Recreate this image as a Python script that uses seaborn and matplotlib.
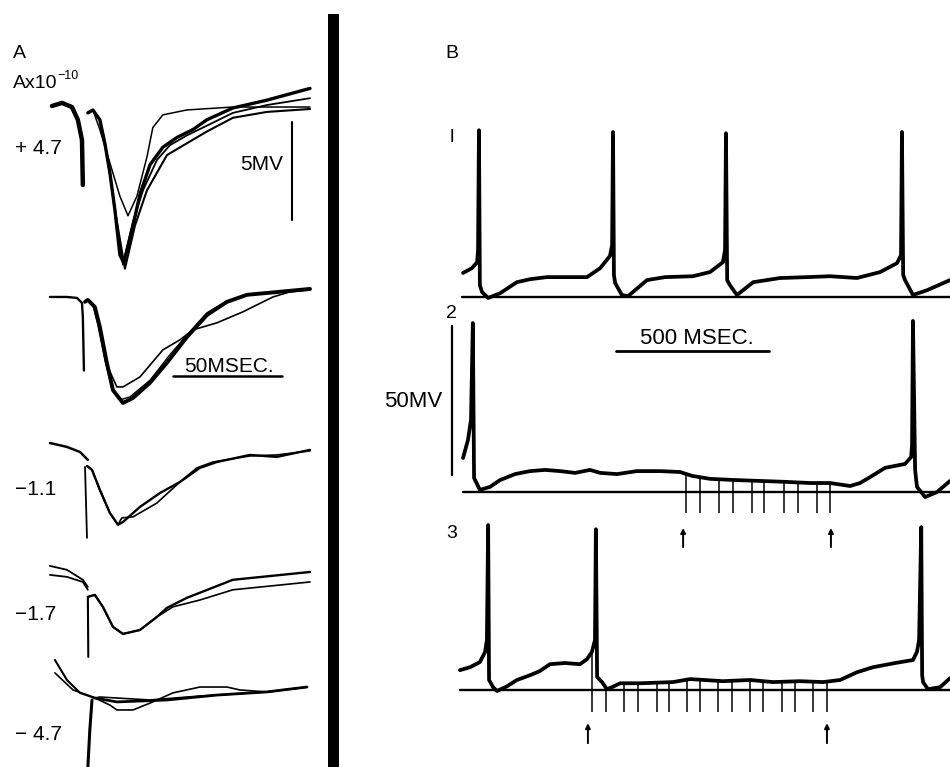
import numpy as np
import matplotlib
matplotlib.use('Agg')
import matplotlib.pyplot as plt
from matplotlib.patches import Rectangle
import seaborn as sns

# ---------------- Panel A : responses (t in ms, v in mV, relative to each group) ----------------
# +4.7
a1_art_t = [0.9, 5.5, 10.1, 12.8, 14.7, 15.1]
a1_art_v = [0.2, 0.36, 0.15, -0.5, -1.53, -3.83]
a1_tr1_t = [17.4, 19.7, 22.9, 27.5, 32.1, 35.8, 39.9, 44.5, 47.2, 51.8, 62.8, 83.9, 119.3]
a1_tr1_v = [-0.15, 0, -1.0, -2.7, -4.4, -5.4, -4.4, -2.4, -0.9, -0.25, 0, 0.15, 0.15]
a1_tr2_t = [17.4, 19.7, 22.9, 25.2, 27.5, 29.8, 32.1, 33.9, 38.1, 41.3, 45.9, 51.8, 58.3, 65.6, 72.0, 83.9, 99.5, 119.3]
a1_tr2_v = [-0.15, 0, -0.5, -1.7, -3.2, -5.1, -7.4, -7.8, -5.9, -4.3, -2.8, -1.9, -1.4, -1.0, -0.5, 0.1, 0.5, 1.1]
a1_tr3_t = [17.4, 19.7, 22.9, 25.2, 27.5, 29.8, 33.5, 38.1, 42.7, 49.1, 55.0, 62.8, 72.0, 83.9, 99.5, 119.3]
a1_tr3_v = [-0.15, 0, -0.5, -1.7, -3.2, -5.1, -7.9, -5.7, -4.1, -2.55, -1.8, -1.3, -0.8, -0.15, 0.25, 0.6]
a1_tr4_t = [17.4, 19.7, 22.9, 25.2, 27.5, 29.8, 34.4, 39.0, 44.5, 53.7, 62.8, 72.0, 83.9, 99.5, 119.3]
a1_tr4_v = [-0.15, 0, -0.5, -1.7, -3.2, -5.1, -8.1, -5.9, -4.1, -2.3, -1.7, -1.1, -0.4, -0.1, 0.05]

# second group (no label)
a2_art_t = [0, 7.8, 12.4, 14.7, 15.1, 15.6]
a2_art_v = [0.15, 0.15, 0.1, -0.15, -0.87, -3.6]
a2_tr1_t = [16.1, 17.4, 20.6, 22.9, 26.1, 28.9, 33.5, 38.1, 45.9, 53.7, 62.8, 72.0, 81.2, 90.4, 104.1, 119.3]
a2_tr1_v = [-0.1, 0, -0.36, -1.38, -3.2, -4.6, -5.26, -5.0, -4.23, -3.2, -1.9, -0.77, -0.1, 0.26, 0.4, 0.56]
a2_tr2_t = [16.1, 17.4, 19.7, 22.0, 25.2, 28.4, 32.1, 36.7, 45.9, 55.0, 62.8, 72.0, 81.2, 90.4, 104.1, 119.3]
a2_tr2_v = [-0.1, 0, -0.26, -1.28, -3.06, -4.5, -5.1, -4.95, -4.1, -2.8, -1.8, -0.66, -0.05, 0.26, 0.4, 0.56]
a2_tr3_t = [16.1, 17.4, 20.6, 22.9, 26.1, 30.7, 33.5, 41.3, 51.8, 59.6, 65.6, 76.6, 88.5, 102.3, 110.1, 119.3]
a2_tr3_v = [-0.1, 0, -0.36, -1.53, -3.3, -4.44, -4.44, -3.93, -2.55, -2.04, -1.53, -1.17, -0.61, 0.15, 0.41, 0.51]

# -1.1
a3_art_t = [0, 7.8, 13.8, 17.4]
a3_art_v = [1.17, 0.97, 0.71, 0.31]
a3_drop_t = [16.1, 17.0]
a3_drop_v = [-0.05, -3.67]
a3_tr1_t = [17.0, 19.3, 22.9, 27.5, 31.2, 33.5, 41.3, 50.5, 59.6, 68.8, 76.6, 91.7, 104.1, 119.3]
a3_tr1_v = [0, -0.2, -1.22, -2.4, -3.0, -2.86, -2.09, -1.38, -0.82, -0.1, 0.2, 0.56, 0.46, 0.82]
a3_tr2_t = [17.0, 19.3, 22.9, 27.5, 31.2, 33.0, 38.1, 49.1, 59.6, 67.4, 74.8, 91.7, 104.1, 119.3]
a3_tr2_v = [0, -0.2, -1.22, -2.4, -3.0, -2.65, -2.6, -1.89, -0.82, -0.1, 0.2, 0.51, 0.56, 0.77]

# -1.7
a4_art1_t = [0, 7.8, 15.1, 17.4]
a4_art1_v = [1.48, 1.28, 0.77, 0.41]
a4_art2_t = [0, 7.8, 15.1, 17.4]
a4_art2_v = [1.02, 0.92, 0.66, 0.26]
a4_drop_t = [17.4, 17.6]
a4_drop_v = [-0.1, -3.16]
a4_tr1_t = [17.4, 20.6, 24.3, 28.9, 33.5, 41.3, 49.1, 53.7, 62.8, 83.9, 119.3]
a4_tr1_v = [-0.1, 0, -0.61, -1.63, -1.99, -1.79, -1.12, -0.66, -0.15, 0.77, 1.17]
a4_tr2_t = [17.4, 20.6, 24.3, 28.9, 33.5, 41.3, 49.1, 56.4, 68.8, 83.9, 119.3]
a4_tr2_v = [-0.1, 0, -0.61, -1.63, -1.99, -1.79, -1.12, -0.61, -0.26, 0.26, 0.66]

# -4.7
a5_art1_t = [2.3, 7.8, 13.8, 20.6]
a5_art1_v = [1.94, 0.92, 0.26, 0]
a5_art2_t = [2.3, 10.6, 19.7]
a5_art2_v = [1.28, 0.41, 0.05]
a5_drop_t = [19.3, 18.3, 17.4]
a5_drop_v = [-0.1, -1.63, -3.52]
a5_tr1_t = [20.6, 30.7, 53.7, 76.6, 99.5, 117.9]
a5_tr1_v = [0, -0.2, -0.1, 0.15, 0.31, 0.56]
a5_tr2_t = [19.7, 27.5, 30.7, 38.1, 45.9, 56.4, 68.8, 81.2, 87.2, 99.5, 117.9]
a5_tr2_v = [0.05, -0.36, -0.61, -0.61, -0.26, 0.26, 0.56, 0.56, 0.41, 0.31, 0.56]
a5_tr3_t = [20.6, 22.9, 45.9, 68.8, 99.5, 117.9]
a5_tr3_v = [0, 0.05, -0.1, 0.1, 0.31, 0.56]

a_labels = ['+ 4.7', '', '\u22121.1', '\u22121.7', '\u2212 4.7']

# ---------------- Panel B : spontaneous firing (t in ms, v in mV above baseline) ----------------
s1_t = [10, 39, 56, 59, 62, 65, 72, 92, 131, 186, 229, 284, 415, 458, 490, 497, 500, 503, 507, 529,
        549, 611, 670, 761, 817, 859, 866, 869, 873, 882, 905, 958, 1046, 1134, 1209, 1297, 1373, 1428,
        1441, 1444, 1448, 1454, 1480, 1526, 1601]
s1_v = [8.1, 9.7, 11.7, 15.8, 56.0, 4.0, 1.7, -0.3, 1.3, 5.0, 6.0, 6.7, 6.7, 9.7, 13.8, 17.4, 55.4, 7.4, 4.7, 0.7,
        0.3, 5.7, 6.7, 7.0, 8.4, 11.7, 15.8, 55.0, 5.7, 4.0, 0.7, 5.0, 6.4, 6.7, 7.0, 6.4, 8.4, 11.4,
        14.1, 55.4, 7.4, 5.7, 0.7, 2.3, 5.7]

s2_t = [10, 26, 36, 42, 46, 65, 98, 131, 180, 229, 278, 327, 376, 425, 458, 513, 578, 654, 719, 758,
        817, 899, 980, 1062, 1144, 1209, 1275, 1307, 1340, 1389, 1454, 1474, 1477, 1480, 1487, 1493, 1520,
        1559, 1601]
s2_v = [11.4, 17.4, 24.2, 56.7, 4.7, 0.7, 1.7, 4.0, 6.0, 7.0, 7.4, 7.0, 6.4, 7.4, 6.4, 6.0, 7.0, 7.0, 6.7, 5.4,
        4.4, 4.0, 3.7, 3.4, 3.0, 3.0, 2.0, 3.0, 5.0, 8.1, 9.4, 11.7, 15.8, 57.4, 7.4, 1.7, -1.7,
        0.0, 3.7]
s2_stim = [739, 784, 846, 892, 954, 993, 1059, 1105, 1167, 1209]
s2_arrows = [729, 1212]

s3_t = [0, 33, 65, 82, 88, 92, 95, 108, 121, 154, 186, 229, 261, 294, 343, 392, 415, 431, 441, 444,
        448, 464, 480, 497, 523, 588, 696, 752, 859, 948, 1023, 1111, 1186, 1242, 1297, 1350, 1422, 1480,
        1493, 1500, 1507, 1510, 1513, 1529, 1569, 1601]
s3_v = [6.7, 7.7, 9.4, 12.8, 16.8, 55.4, 3.4, 1.0, -0.3, 1.3, 3.4, 5.0, 6.4, 8.7, 9.1, 8.7, 10.4, 12.8, 16.8, 54.0,
        4.4, 2.7, 0.3, 1.0, 2.3, 2.3, 2.7, 3.7, 3.0, 3.4, 2.7, 3.0, 2.7, 3.4, 6.0, 7.7, 9.1, 10.1,
        12.8, 16.8, 54.7, 5.0, 2.7, 0.3, 1.0, 4.0]
s3_stim = [431, 477, 536, 582, 644, 683, 742, 784, 843, 889, 948, 990, 1052, 1095, 1154, 1199]
s3_arrows = [418, 1199]

sns.set_theme(style='white')
plt.rcParams['font.family'] = ['Liberation Sans', 'DejaVu Sans']

W, H = 950, 767
fig = plt.figure(figsize=(9.5, 7.67), dpi=100)
fig.patch.set_facecolor('white')


def trace(ax, t, v, off, lw):
    sns.lineplot(x=np.asarray(t, float), y=np.asarray(v, float) + off, ax=ax, color='black',
                 lw=lw, sort=False, estimator=None, legend=False, solid_capstyle='round',
                 solid_joinstyle='round')


def label(xp, yp, s, size=13, ha='left'):
    fig.text(xp / W, 1 - yp / H, s, ha=ha, va='center', fontsize=size, color='black')


# ---- panel A ----
axA = fig.add_axes([0, 0, 322 / W, 1])
axA.set_xlim(-22.9, 124.8)
axA.set_ylim(0, 39.13)
axA.axis('off')

a_off = [33.52, 23.83, 15.36, 8.78, 3.52]
groupA = [
    [(a1_art_t, a1_art_v, 3.2), (a1_tr1_t, a1_tr1_v, 1.1), (a1_tr2_t, a1_tr2_v, 2.4),
     (a1_tr3_t, a1_tr3_v, 1.3), (a1_tr4_t, a1_tr4_v, 1.5)],
    [(a2_art_t, a2_art_v, 1.7), (a2_tr1_t, a2_tr1_v, 2.8), (a2_tr2_t, a2_tr2_v, 1.0),
     (a2_tr3_t, a2_tr3_v, 1.2)],
    [(a3_art_t, a3_art_v, 1.8), (a3_drop_t, a3_drop_v, 1.3), (a3_tr1_t, a3_tr1_v, 1.7),
     (a3_tr2_t, a3_tr2_v, 1.2)],
    [(a4_art1_t, a4_art1_v, 1.3), (a4_art2_t, a4_art2_v, 1.3), (a4_drop_t, a4_drop_v, 1.5),
     (a4_tr1_t, a4_tr1_v, 1.7), (a4_tr2_t, a4_tr2_v, 1.2)],
    [(a5_art1_t, a5_art1_v, 1.5), (a5_art2_t, a5_art2_v, 1.2), (a5_drop_t, a5_drop_v, 2.2),
     (a5_tr1_t, a5_tr1_v, 2.0), (a5_tr2_t, a5_tr2_v, 1.2), (a5_tr3_t, a5_tr3_v, 1.2)],
]
for off, grp in zip(a_off, groupA):
    for t, v, lw in grp:
        trace(axA, t, v, off, lw)

# scale bars, panel A: 5 mV and 50 ms
trace(axA, [111.0, 111.0], [-0.61, -5.61], a_off[0], 1.5)
trace(axA, [56.4, 106.4], [-3.88, -3.88], a_off[1], 1.8)

label(13, 53, 'A', 14)
label(13, 84, 'Ax10', 14)
label(57, 76, '\u221210', 9)
for yp, s in zip([148, 300, 490, 615, 735], a_labels):
    if s:
        label(15, yp, s, 15)
label(283, 165, '5MV', 15, ha='right')
label(184, 366, '50MSEC.', 15)

# thick separator
fig.add_artist(Rectangle((328 / W, 0), 11 / W, 753 / H, transform=fig.transFigure,
                         facecolor='black', edgecolor='none'))

# ---- panel B ----
axB = fig.add_axes([340 / W, 0, 610 / W, 1])
axB.set_xlim(-392, 1601)
axB.set_ylim(0, 257.4)
axB.axis('off')

b_off = [157.7, 92.3, 25.8]
b_start = [7, 10, 0]
sweeps = [(s1_t, s1_v, [], []), (s2_t, s2_v, s2_stim, s2_arrows), (s3_t, s3_v, s3_stim, s3_arrows)]
tick_bottom = [0, -7.0, -7.2]
arrow_span = [(0, 0), (-18.5, -12.1), (-17.8, -11.1)]

for i, (t, v, stim, arr) in enumerate(sweeps):
    off = b_off[i]
    trace(axB, [b_start[i], 1601], [0, 0], off, 1.7)
    trace(axB, t, v, off, 2.7)
    if stim:
        tops = np.interp(stim, t, v) + off
        axB.vlines(stim, tick_bottom[i] + off, tops, color='black', lw=1.1)
    for ta in arr:
        axB.annotate('', xy=(ta, arrow_span[i][1] + off), xytext=(ta, arrow_span[i][0] + off),
                     arrowprops=dict(arrowstyle='-|>', color='black', lw=1.4, mutation_scale=7,
                                     shrinkA=0, shrinkB=0))

# scale bars, panel B: 50 mV and 500 ms
trace(axB, [-26, -26], [5.7, 55.7], b_off[1], 1.6)
trace(axB, [510, 1010], [47.3, 47.3], b_off[1], 2.0)

label(445, 53, 'B', 14)
label(450, 137, 'l', 14)
label(446, 313, '2', 14)
label(446, 533, '3', 14)
label(442, 402, '50MV', 16, ha='right')
label(697, 339, '500 MSEC.', 16, ha='center')

fig.savefig('out.png', dpi=100, facecolor='white')
